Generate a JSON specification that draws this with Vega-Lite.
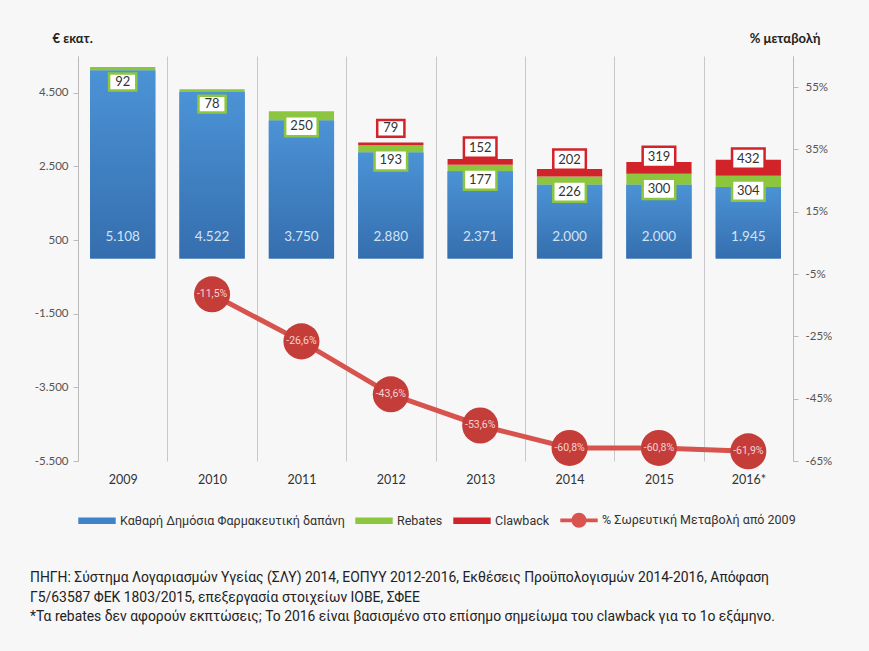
{
  "$schema": "https://vega.github.io/schema/vega-lite/v6.json",
  "width": 715,
  "height": 405,
  "autosize": {"type": "none"},
  "padding": {"left": 78, "top": 56, "right": 76, "bottom": 190},
  "background": "#f7f7f7",
  "config": {
    "locale": {"number": {"decimal": ",", "thousands": ".", "grouping": [3], "currency": ["", " €"], "minus": "-", "percent": "%"}},
    "view": {"stroke": null},
    "font": "Lato"
  },
  "datasets": {
    "bars": [
      {"year": "2009", "series": "Καθαρή Δημόσια Φαρμακευτική δαπάνη", "value": 5108},
      {"year": "2009", "series": "Rebates", "value": 92},
      {"year": "2010", "series": "Καθαρή Δημόσια Φαρμακευτική δαπάνη", "value": 4522},
      {"year": "2010", "series": "Rebates", "value": 78},
      {"year": "2011", "series": "Καθαρή Δημόσια Φαρμακευτική δαπάνη", "value": 3750},
      {"year": "2011", "series": "Rebates", "value": 250},
      {"year": "2012", "series": "Καθαρή Δημόσια Φαρμακευτική δαπάνη", "value": 2880},
      {"year": "2012", "series": "Rebates", "value": 193},
      {"year": "2012", "series": "Clawback", "value": 79},
      {"year": "2013", "series": "Καθαρή Δημόσια Φαρμακευτική δαπάνη", "value": 2371},
      {"year": "2013", "series": "Rebates", "value": 177},
      {"year": "2013", "series": "Clawback", "value": 152},
      {"year": "2014", "series": "Καθαρή Δημόσια Φαρμακευτική δαπάνη", "value": 2000},
      {"year": "2014", "series": "Rebates", "value": 226},
      {"year": "2014", "series": "Clawback", "value": 202},
      {"year": "2015", "series": "Καθαρή Δημόσια Φαρμακευτική δαπάνη", "value": 2000},
      {"year": "2015", "series": "Rebates", "value": 300},
      {"year": "2015", "series": "Clawback", "value": 319},
      {"year": "2016*", "series": "Καθαρή Δημόσια Φαρμακευτική δαπάνη", "value": 1945},
      {"year": "2016*", "series": "Rebates", "value": 304},
      {"year": "2016*", "series": "Clawback", "value": 432}
    ],
    "pct": [
      {"year": "2010", "pct": -0.115},
      {"year": "2011", "pct": -0.266},
      {"year": "2012", "pct": -0.436},
      {"year": "2013", "pct": -0.536},
      {"year": "2014", "pct": -0.608},
      {"year": "2015", "pct": -0.608},
      {"year": "2016*", "pct": -0.619}
    ]
  },
  "title": {
    "text": [
      "ΠΗΓΗ: Σύστημα Λογαριασμών Υγείας (ΣΛΥ) 2014, ΕΟΠΥΥ 2012-2016, Εκθέσεις Προϋπολογισμών 2014-2016, Απόφαση",
      "Γ5/63587 ΦΕΚ 1803/2015, επεξεργασία στοιχείων ΙΟΒΕ, ΣΦΕΕ",
      "*Τα rebates δεν αφορούν εκπτώσεις; Το 2016 είναι βασισμένο στο επίσημο σημείωμα του clawback για το 1ο εξάμηνο."
    ],
    "orient": "bottom",
    "anchor": "start",
    "frame": "group",
    "dx": -48,
    "offset": 43,
    "font": "Roboto",
    "fontSize": 13.9,
    "fontWeight": "normal",
    "color": "#222",
    "lineHeight": 19.5
  },
  "layer": [
    {
      "data": {"name": "bars"},
      "transform": [
        {"stack": "value", "groupby": ["year"], "sort": [{"field": "series", "order": "descending"}], "as": ["v0", "v1"]}
      ],
      "encoding": {
        "x": {
          "field": "year", "type": "nominal",
          "scale": {"type": "band", "domain": ["2009", "2010", "2011", "2012", "2013", "2014", "2015", "2016*"], "paddingInner": 0, "paddingOuter": 0},
          "axis": {"title": null, "labelAngle": 0, "domain": false, "ticks": false, "grid": true, "tickBand": "extent", "gridColor": "#c8c8c8", "labelFontSize": 12.5, "labelColor": "#333", "labelPadding": 12, "labelFont": "Lato"}
        }
      },
      "layer": [
        {
          "mark": {"type": "rule", "color": "#aaaaaa", "strokeWidth": 1.5},
          "encoding": {"y": {"datum": 0, "type": "quantitative"}}
        },
        {
          "mark": {"type": "bar", "width": {"band": 0.73}},
          "encoding": {
            "y": {
              "field": "v1", "type": "quantitative",
              "scale": {"domain": [-5500, 5500], "nice": false, "zero": false},
              "axis": {"title": "€ εκατ.", "values": [-5500, -3500, -1500, 500, 2500, 4500], "format": ",d", "grid": false, "domainColor": "#bbbbbb", "tickColor": "#bbbbbb", "tickSize": 5, "labelColor": "#555", "labelFontSize": 11.5, "labelPadding": 5, "labelFont": "Lato", "titleAngle": 0, "titleAlign": "left", "titleX": -26, "titleY": -14, "titleBaseline": "alphabetic", "titleFontWeight": "bold", "titleFontSize": 13, "titleColor": "#222", "titleFont": "Lato"}
            },
            "y2": {"field": "v0"},
            "color": {
              "field": "series", "type": "nominal",
              "scale": {"domain": ["Καθαρή Δημόσια Φαρμακευτική δαπάνη", "Rebates", "Clawback", "% Σωρευτική Μεταβολή από 2009"], "range": ["#3f83c8", "#8cc63f", "#d2232a", "#d9534f"]},
              "legend": {
                "title": null, "orient": "none", "legendX": 0, "legendY": 445, "direction": "horizontal", "columns": 4,
                "symbolType": "M-1,-0.18L1,-0.18L1,0.18L-1,0.18Z", "symbolSize": 1400, "symbolStrokeWidth": 0,
                "labelFontSize": 12.5, "labelColor": "#333", "labelFont": "Roboto", "labelLimit": 0, "columnPadding": 10,
                "encode": {"symbols": {"update": {"shape": {"signal": "indexof(datum.value, '%') >= 0 ? 'M-1,-0.1L1,-0.1L1,0.1L-1,0.1Z M-0.4,0 A0.4,0.4 0 1,1 0.4,0 A0.4,0.4 0 1,1 -0.4,0Z' : 'M-1,-0.18L1,-0.18L1,0.18L-1,0.18Z'"}}}}
              }
            }
          }
        },
        {
          "transform": [{"filter": "datum.series === 'Καθαρή Δημόσια Φαρμακευτική δαπάνη'"}],
          "mark": {"type": "bar", "width": {"band": 0.73}, "fill": {"gradient": "linear", "x1": 0, "y1": 0, "x2": 0, "y2": 1, "stops": [{"offset": 0, "color": "#4b93d6"}, {"offset": 1, "color": "#356eae"}]}},
          "encoding": {"y": {"field": "v1", "type": "quantitative"}, "y2": {"field": "v0"}}
        },
        {
          "transform": [{"filter": "datum.series === 'Καθαρή Δημόσια Φαρμακευτική δαπάνη'"}],
          "mark": {"type": "text", "color": "#d3e3f4", "fontSize": 13.5, "font": "Lato", "yOffset": -22, "baseline": "middle"},
          "encoding": {"y": {"datum": 0, "type": "quantitative"}, "text": {"field": "value", "type": "quantitative", "format": ","}}
        },
        {
          "transform": [{"filter": "datum.series === 'Rebates'"}],
          "mark": {"type": "point", "shape": "M-1,-0.62L1,-0.62L1,0.62L-1,0.62Z", "filled": true, "fill": "#ffffff", "stroke": "#8cc63f", "strokeWidth": 2.5, "opacity": 1, "yOffset": 15},
          "encoding": {"y": {"field": "v1", "type": "quantitative"}, "size": {"condition": {"test": "datum.value < 100", "value": 740}, "value": 1060}}
        },
        {
          "transform": [{"filter": "datum.series === 'Rebates'"}],
          "mark": {"type": "text", "color": "#333", "fontSize": 13, "font": "Lato", "yOffset": 15, "baseline": "middle"},
          "encoding": {"y": {"field": "v1", "type": "quantitative"}, "text": {"field": "value", "type": "quantitative"}}
        },
        {
          "transform": [{"filter": "datum.series === 'Clawback'"}],
          "mark": {"type": "point", "shape": "M-1,-0.62L1,-0.62L1,0.62L-1,0.62Z", "filled": true, "fill": "#ffffff", "stroke": "#d2232a", "strokeWidth": 2.5, "opacity": 1, "yOffset": -17},
          "encoding": {"y": {"field": "v0", "type": "quantitative"}, "size": {"condition": {"test": "datum.value < 100", "value": 740}, "value": 1060}}
        },
        {
          "transform": [{"filter": "datum.series === 'Clawback'"}],
          "mark": {"type": "text", "color": "#333", "fontSize": 13, "font": "Lato", "yOffset": -17, "baseline": "middle"},
          "encoding": {"y": {"field": "v0", "type": "quantitative"}, "text": {"field": "value", "type": "quantitative"}}
        }
      ]
    },
    {
      "data": {"name": "pct"},
      "encoding": {
        "x": {"field": "year", "type": "nominal"},
        "y": {
          "field": "pct", "type": "quantitative",
          "scale": {"domain": [-0.65, 0.65], "nice": false, "zero": false},
          "axis": {"orient": "right", "title": "% μεταβολή", "values": [-0.65, -0.45, -0.25, -0.05, 0.15, 0.35, 0.55], "format": ".0%", "grid": false, "domainColor": "#bbbbbb", "tickColor": "#bbbbbb", "tickSize": 5, "labelColor": "#555", "labelFontSize": 11.5, "labelPadding": 7, "labelFont": "Lato", "titleAngle": 0, "titleAlign": "right", "titleX": 27, "titleY": -14, "titleBaseline": "alphabetic", "titleFontWeight": "bold", "titleFontSize": 13, "titleColor": "#222", "titleFont": "Lato"}
        }
      },
      "layer": [
        {"mark": {"type": "line", "color": "#d6534e", "strokeWidth": 5}},
        {"mark": {"type": "point", "shape": "circle", "filled": true, "size": 1300, "color": "#c43d39", "opacity": 1}},
        {
          "mark": {"type": "text", "color": "#f6d2d2", "fontSize": 10.5, "font": "Roboto", "baseline": "middle"},
          "encoding": {"text": {"field": "pct", "type": "quantitative", "format": ".1%"}}
        }
      ]
    }
  ],
  "resolve": {"scale": {"y": "independent"}}
}
